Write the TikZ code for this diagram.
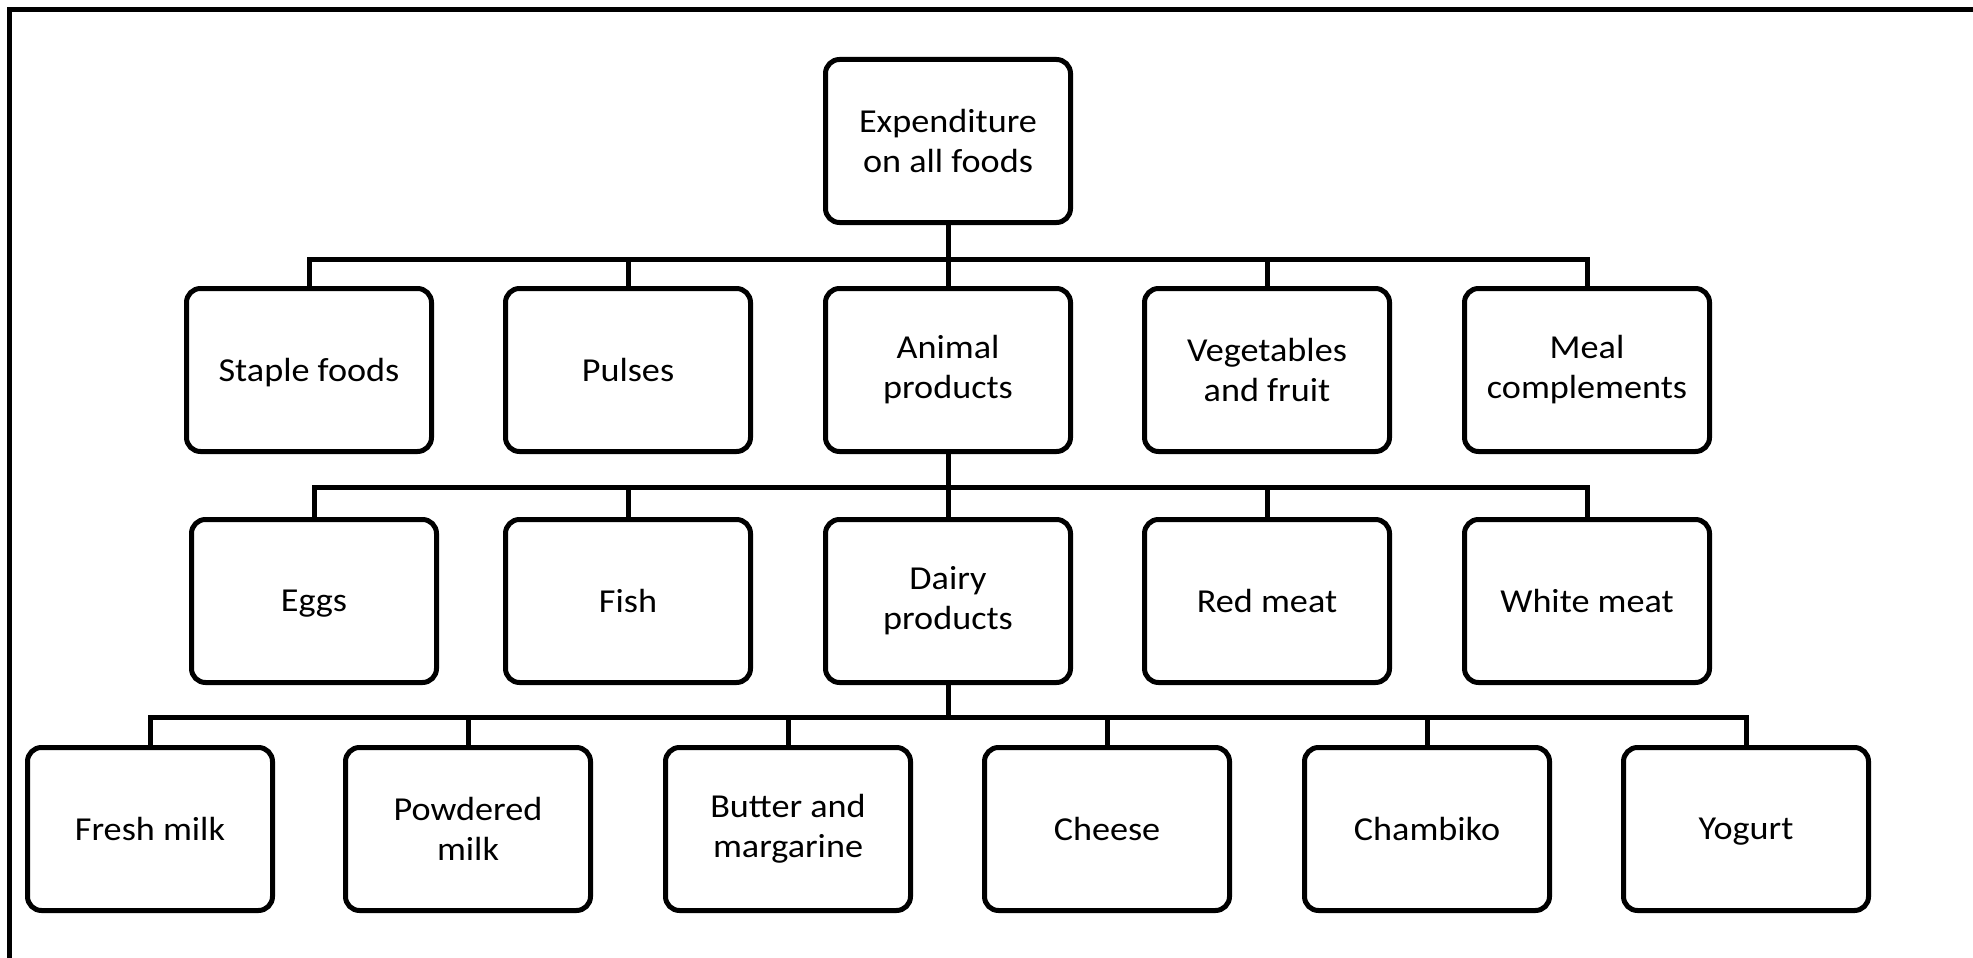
\documentclass[tikz,border=0pt]{standalone}
\usepackage{fontspec}
\setmainfont{Carlito}[FakeStretch=1.08]
\usetikzlibrary{calc}
\tikzset{
  box/.style={draw=black, line width=5pt, rounded corners=14pt, fill=white,
    minimum width=245pt, minimum height=163pt, inner sep=0pt, align=center,
    font=\fontsize{33.5}{40}\selectfont},
  single/.style={text depth=0pt},
  link/.style={draw=black, line width=5pt},
  frameline/.style={draw=black, line width=5pt}
}
\begin{document}
\begin{tikzpicture}[x=1pt, y=-1pt]
\useasboundingbox (0,0) rectangle (1973,958);
% frame (top and left edges only)
\coordinate (ftr) at (1973,9.5);
\coordinate (ftl) at (9.5,9.5);
\coordinate (fbl) at (9.5,958);
\draw[frameline] (ftr) -- (ftl) -- (fbl);

% level 0
\node[box] (root) at (948,141) {Expenditure\\on all foods};

% level 1
\node[box, single] (staple) at (309,370) {Staple foods};
\node[box, single] (pulses) at (628,370) {Pulses};
\node[box] (animal) at (948,370) {Animal\\products};
\node[box] (veg) at (1267,370) {Vegetables\\and fruit};
\node[box] (meal) at (1587,370) {Meal\\complements};

% level 2
\node[box, single] (eggs) at (314,601) {Eggs};
\node[box, single] (fish) at (628,601) {Fish};
\node[box] (dairy) at (948,601) {Dairy\\products};
\node[box, single] (red) at (1267,601) {Red meat};
\node[box, single] (white) at (1587,601) {White meat};

% level 3
\node[box, single] (fresh) at (150,829) {Fresh milk};
\node[box] (powder) at (468,829) {Powdered\\milk};
\node[box] (butter) at (788,829) {Butter and\\margarine};
\node[box, single] (cheese) at (1107,829) {Cheese};
\node[box, single] (chambiko) at (1427,829) {Chambiko};
\node[box, single] (yogurt) at (1746,829) {Yogurt};

% connectors level 0 -> 1
\foreach \c in {staple,pulses,animal,veg,meal}
  \draw[link] (root.south) -- ++(0,34) -| (\c.north);
% connectors level 1 -> 2
\foreach \c in {eggs,fish,dairy,red,white}
  \draw[link] (animal.south) -- ++(0,33) -| (\c.north);
% connectors level 2 -> 3
\foreach \c in {fresh,powder,butter,cheese,chambiko,yogurt}
  \draw[link] (dairy.south) -- ++(0,32) -| (\c.north);
\end{tikzpicture}
\end{document}
